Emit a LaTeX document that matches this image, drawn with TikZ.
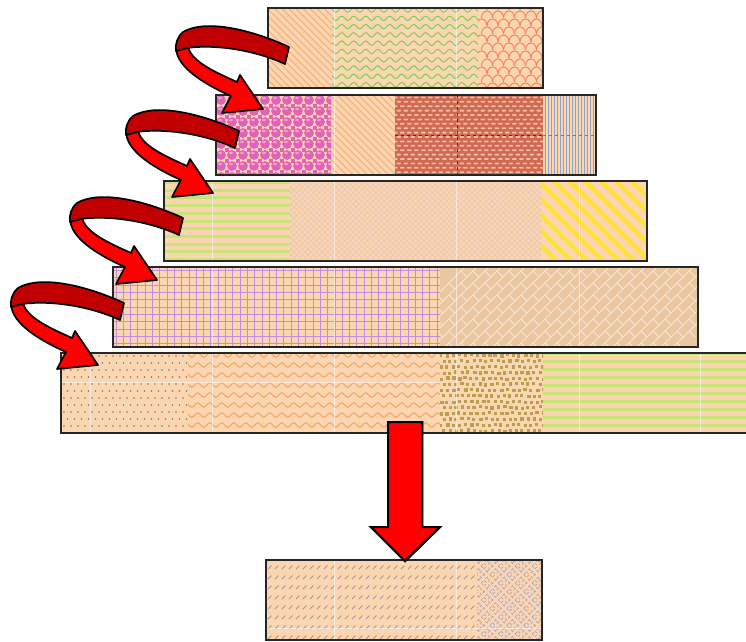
\documentclass[tikz,border=0pt]{standalone}
\usepackage{tikz}
\usetikzlibrary{decorations.pathmorphing}

\definecolor{peach}{RGB}{252,214,176}
\definecolor{tanfill}{RGB}{234,199,160}
\definecolor{orangeline}{RGB}{250,168,112}
\definecolor{greenwave}{RGB}{130,205,90}
\definecolor{scalecol}{RGB}{250,125,80}
\definecolor{bubble}{RGB}{226,98,184}
\definecolor{bubblehi}{RGB}{242,160,214}
\definecolor{brick}{RGB}{208,104,84}
\definecolor{brickdash}{RGB}{245,190,160}
\definecolor{steel}{RGB}{140,165,205}
\definecolor{stripegreen}{RGB}{200,228,120}
\definecolor{hatchpale}{RGB}{228,196,182}
\definecolor{sunyellow}{RGB}{255,226,50}
\definecolor{gridpurple}{RGB}{192,140,228}
\definecolor{dotgrey}{RGB}{130,120,110}
\definecolor{wavorange}{RGB}{245,160,100}
\definecolor{olivesq}{RGB}{185,160,80}
\definecolor{dashgrey}{RGB}{165,150,145}
\definecolor{weave}{RGB}{160,160,198}
\definecolor{darkred}{RGB}{192,0,0}
\definecolor{brightred}{RGB}{255,0,0}

\tikzset{
  bar/.style={draw=black!85,line width=1.8pt},
  turn back/.style={fill=darkred,draw=black,line width=1.7pt,line join=round},
  turn front/.style={fill=brightred,draw=black,line width=1.7pt,line join=round},
  guide/.style={white,opacity=0.55,line width=0.6pt}
}

% x1,y1,x2,y2,line style,gap,angle
\newcommand{\stripes}[7]{%
  \begin{scope}
    \clip (#1,#2) rectangle (#3,#4);
    \begin{scope}[shift={({(#1+#3)/2},{(#2+#4)/2})},rotate=#7]
      \foreach \i in {-45,...,45}
        \draw[#5] (-260,\i*#6) -- (260,\i*#6);
    \end{scope}
  \end{scope}}

% x1,y1,x2,y2,colour,gap
\newcommand{\waves}[6]{%
  \begin{scope}
    \clip (#1,#2) rectangle (#3,#4);
    \foreach \j in {0,...,10}
      \draw[#5,line width=1pt,decorate,decoration={snake,amplitude=2.2pt,segment length=12pt}]
        (#1-6,#2+2+\j*#6) -- (#3+6,#2+2+\j*#6);
  \end{scope}}

\newcommand{\guides}[4]{%
  \begin{scope}
    \clip (#1,#2) rectangle (#3,#4);
    \foreach \gx in {90,212,334,456,579,700}
      \draw[guide] (\gx,#2) -- (\gx,#4);
  \end{scope}}

\newcommand{\turnarrow}[2]{%
  \begin{scope}[shift={(#1,#2)}]
    \filldraw[turn front] (178,40) .. controls (169,60) and (195,80) .. (231,96)
      -- (222,113) -- (263,109) -- (240,75) -- (237,82)
      .. controls (215,72) and (192,62) .. (188,47) -- cycle;
    \filldraw[turn back] (289,47) .. controls (250,29) and (205,19) .. (183,32)
      .. controls (177,37) and (175,45) .. (176,51) -- (187,48)
      .. controls (215,44) and (255,50) .. (285,64) -- cycle;
  \end{scope}}

\begin{document}
\begin{tikzpicture}[x=1pt,y=-1pt]
  \useasboundingbox (0,0) rectangle (746,641);

  % first row
  \fill[peach] (268,8) rectangle (543,88);
  \stripes{268}{8}{332}{88}{orangeline,line width=0.9pt}{5}{-45}
  \waves{332}{8}{478}{88}{greenwave}{8.3}
  \begin{scope}
    \clip (478,8) rectangle (543,88);
    \foreach \j in {0,...,10}
      \foreach \i in {0,...,6}
        \draw[scalecol,line width=0.9pt] ({476+\i*11+mod(\j,2)*5.5},{10+\j*8}) arc (180:360:5.5 and 7);
  \end{scope}
  \guides{268}{8}{543}{88}

  % second row
  \fill[peach] (216,95) rectangle (596,175);
  \begin{scope}
    \clip (216,95) rectangle (331,175);
    \foreach \j in {0,...,7}
      \foreach \i in {0,...,10} {
        \fill[bubble] ({221+\i*11},{100+\j*11}) circle (4.9);
        \fill[bubblehi] ({220+\i*11},{98+\j*11}) ellipse (2 and 1.2);
        \fill[bubble] ({224.5+\i*11},{103.5+\j*11}) rectangle ++(4,4);
      }
  \end{scope}
  \stripes{331}{95}{395}{175}{orangeline,line width=0.9pt}{5}{-45}
  \begin{scope}
    \clip (395,95) rectangle (543,175);
    \fill[brick] (395,95) rectangle (543,175);
    \foreach \j in {0,...,18}
      \foreach \i in {0,...,21}
        \fill[brickdash,rounded corners=0.7pt] ({393+\i*7+mod(\j,2)*3.5},{96.5+\j*4.4}) rectangle ++(4.6,1.8);
    \draw[darkred,dashed,line width=0.8pt] (457,95) -- (457,175) (395,135) -- (543,135);
  \end{scope}
  \stripes{543}{95}{596}{175}{steel,line width=1.1pt}{3}{90}
  \draw[steel!70!blue,dashed,line width=0.6pt] (543,135) -- (596,135);
  \guides{331}{95}{395}{175}

  % third row
  \fill[peach] (164,181) rectangle (647,261);
  \stripes{164}{181}{290}{261}{stripegreen,line width=3pt}{7.7}{0}
  \stripes{290}{181}{541}{261}{hatchpale,line width=0.5pt}{4}{45}
  \stripes{290}{181}{541}{261}{hatchpale,line width=0.5pt}{4}{-45}
  \stripes{541}{181}{647}{261}{sunyellow,line width=4pt}{11}{-45}
  \guides{164}{181}{647}{261}

  % fourth row
  \fill[peach] (113,267) rectangle (440,347);
  \stripes{113}{267}{440}{347}{gridpurple,line width=0.8pt}{7.3}{0}
  \stripes{113}{267}{440}{347}{gridpurple,line width=0.8pt}{7.3}{90}
  \fill[tanfill] (440,267) rectangle (698,347);
  \begin{scope}
    \clip (440,267) rectangle (698,347);
    \begin{scope}[shift={(569,307)},rotate=45]
      \foreach \j in {-12,...,12} {
        \draw[white,opacity=0.7,line width=0.7pt] (-200,\j*8.5) -- (200,\j*8.5);
        \foreach \i in {-12,...,12}
          \draw[white,opacity=0.7,line width=0.7pt] ({\i*17+mod(\j+12,2)*8.5},\j*8.5) -- ++(0,8.5);
      }
    \end{scope}
  \end{scope}
  \guides{113}{267}{698}{347}

  % fifth row
  \fill[peach] (61,353) rectangle (760,433);
  \begin{scope}
    \clip (61,353) rectangle (188,433);
    \foreach \j in {0,...,11}
      \foreach \i in {0,...,18}
        \fill[dotgrey] ({64+\i*7+mod(\j,2)*3.5},{356+\j*7}) circle (0.8);
  \end{scope}
  \waves{188}{353}{440}{433}{wavorange}{10}
  \begin{scope}
    \clip (440,353) rectangle (543,433);
    \pgfmathsetseed{7}
    \foreach \j in {0,...,14}
      \foreach \i in {0,...,17}
        \fill[olivesq] ({439+\i*6+mod(\j,2)*3+rnd*1.5},{353+\j*5.8+rnd*1.5}) rectangle ++(3.2,3.2);
  \end{scope}
  \stripes{543}{353}{760}{433}{stripegreen,line width=3pt}{8}{0}
  \draw[guide] (61,382) -- (440,382);
  \guides{61}{353}{760}{433}

  % result row
  \fill[peach] (266,560) rectangle (542,640);
  \begin{scope}
    \clip (266,560) rectangle (477,640);
    \foreach \j in {0,...,7}
      \foreach \i in {0,...,30}
        \draw[dashgrey,line width=0.8pt] ({268+\i*7},{569+\j*10}) -- ++(3.5,-3.5);
  \end{scope}
  \stripes{477}{560}{542}{640}{weave,line width=0.6pt,dash pattern=on 3pt off 3pt}{4}{45}
  \stripes{477}{560}{542}{640}{weave,line width=0.6pt,dash pattern=on 3pt off 3pt}{4}{-45}
  \draw[guide] (266,628) -- (542,628);
  \guides{266}{560}{542}{640}

  \draw[bar] (268,8) rectangle (543,88);
  \draw[bar] (216,95) rectangle (596,175);
  \draw[bar] (164,181) rectangle (647,261);
  \draw[bar] (113,267) rectangle (698,347);
  \draw[bar] (61,353) rectangle (760,433);
  \draw[bar] (266,560) rectangle (542,640);

  % turning arrows and the drop arrow
  \foreach \dx/\dy in {0/0,-50/84,-106/171,-165/256}
    \turnarrow{\dx}{\dy}
  \filldraw[turn front,line width=2pt,line join=miter] (388,422) -- (422,422) -- (422,527) -- (440,527)
    -- (405,561) -- (371,527) -- (388,527) -- cycle;
\end{tikzpicture}
\end{document}
